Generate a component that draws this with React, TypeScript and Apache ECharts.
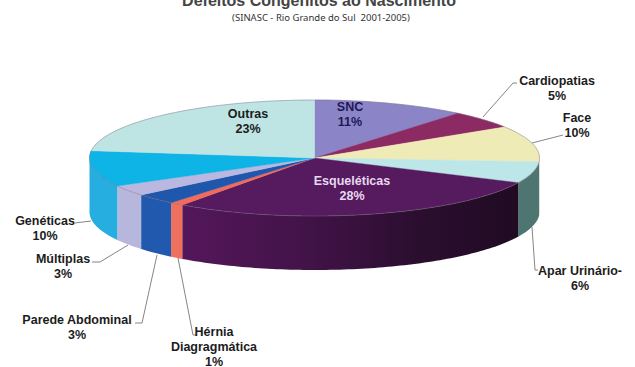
import React, { useEffect, useRef } from "react";
import * as echarts from "echarts";

// Congenital defects at birth, share by type, in chart order (clockwise from 12 o'clock)
const names = ["SNC", "Cardiopatias", "Face", "Apar Urinário-", "Esqueléticas", "Hérnia\nDiagragmática", "Parede Abdominal", "Múltiplas", "Genéticas", "Outras"];
const shares = [11, 5, 10, 6, 28, 1, 3, 3, 10, 23];
const titleText = "Defeitos Congênitos ao Nascimento";
const subtitleText = "(SINASC - Rio Grande do Sul  2001-2005)";

const topColors = ["#8B85C8", "#8C2A63", "#EFEBB6", "#BCE6E8", "#551B5E", "#F26B5B", "#1F57AC", "#BAB8E0", "#0FB4E6", "#BEE4E4"];
const sideColors = ["#6F6AA5", "#6D204D", "#C9C59A", "#4F7572", "#4A1450", "#F0705E", "#2059AE", "#B7B6DD", "#26AEE0", "#9CC0C0"];

// Pie disc geometry in page pixels
const CX = 314.5, CY = 158, RX = 225, RY = 58, DEPTH = 54;

// Centre x and first-line centre y of each label, with its leader line
const labelLayout: Record<string, { x: number; y: number; color: string; leader?: number[][] }> = {
  "SNC": { x: 350, y: 106, color: "#1D1A58" },
  "Cardiopatias": { x: 557, y: 80, color: "#1c1c1c", leader: [[483, 117], [513, 83], [517, 83]] },
  "Face": { x: 577, y: 117, color: "#1c1c1c", leader: [[532, 143], [563, 135]] },
  "Apar Urinário-": { x: 580, y: 270, color: "#1c1c1c", leader: [[532, 227], [535, 270], [538, 270]] },
  "Esqueléticas": { x: 352, y: 180, color: "#E8D8F0" },
  "Hérnia\nDiagragmática": { x: 214, y: 331, color: "#1c1c1c", leader: [[178, 258], [193, 335], [197, 335]] },
  "Parede Abdominal": { x: 77, y: 319, color: "#1c1c1c", leader: [[157, 255], [142, 323], [135, 323]] },
  "Múltiplas": { x: 63, y: 258, color: "#1c1c1c", leader: [[128, 245], [100, 262], [92, 262]] },
  "Genéticas": { x: 45, y: 220, color: "#1c1c1c", leader: [[91, 221], [75, 223]] },
  "Outras": { x: 248, y: 113, color: "#1c1c1c" },
};

const total = shares.reduce((a, b) => a + b, 0);
const rimPoint = (t: number, dy = 0) => [CX + RX * Math.sin(t), CY - RY * Math.cos(t) + dy];
const arcPoints = (a: number, b: number, dy = 0) => {
  const n = Math.max(2, Math.ceil(Math.abs(b - a) / 0.02));
  const pts: number[][] = [];
  for (let i = 0; i <= n; i++) pts.push(rimPoint(a + ((b - a) * i) / n, dy));
  return pts;
};

const renderSlice = (params: any, api: any) => {
  const i = params.dataIndex;
  const value = api.value(0);
  const before = shares.slice(0, i).reduce((a, b) => a + b, 0);
  const start = (before / total) * Math.PI * 2;
  const end = ((before + value) / total) * Math.PI * 2;
  const children: any[] = [];

  // Outer wall: only the part of the rim on the near half of the disc shows
  const wallFrom = Math.max(start, Math.PI / 2);
  const wallTo = Math.min(end, (Math.PI * 3) / 2);
  if (wallTo > wallFrom) {
    const top = arcPoints(wallFrom, wallTo);
    const bottom = arcPoints(wallFrom, wallTo, DEPTH).reverse();
    const isLargest = value === Math.max(...shares);
    children.push({
      type: "polygon",
      shape: { points: top.concat(bottom) },
      style: {
        fill: isLargest
          ? new echarts.graphic.LinearGradient(0, 0, 1, 0, [
              { offset: 0, color: "#54175A" },
              { offset: 0.35, color: "#431349" },
              { offset: 0.7, color: "#2B0E2F" },
              { offset: 1, color: "#200B23" },
            ])
          : sideColors[i],
        stroke: null,
      },
    });
  }

  // Top face wedge with a thin rim line
  const rim = arcPoints(start, end);
  children.push({
    type: "polygon",
    shape: { points: [[CX, CY], ...rim] },
    style: { fill: topColors[i], stroke: topColors[i], lineWidth: 0.4 },
  });
  children.push({
    type: "polyline",
    shape: { points: rim },
    style: { fill: null, stroke: "rgba(120,105,125,0.55)", lineWidth: 0.8 },
  });

  const layout = labelLayout[names[i]];
  if (layout.leader) {
    children.push({
      type: "polyline",
      shape: { points: layout.leader },
      style: { fill: null, stroke: "#858585", lineWidth: 1 },
    });
  }
  children.push({
    type: "text",
    x: layout.x,
    y: layout.y - 7,
    style: {
      text: `${names[i]}\n${value}%`,
      fill: layout.color,
      font: 'bold 12.5px "Liberation Sans", Arial, sans-serif',
      lineHeight: 15,
      align: "center",
      verticalAlign: "top",
    },
  });
  return { type: "group", children };
};

export default function App() {
  const ref = useRef<HTMLDivElement>(null);
  useEffect(() => {
    const chart = echarts.init(ref.current!, undefined, { renderer: "svg" });
    chart.setOption({
      animation: false,
      backgroundColor: "#FFFFFF",
      title: [
        {
          text: titleText,
          left: 314,
          top: -13,
          textAlign: "center",
          textStyle: { fontFamily: "Liberation Sans", fontWeight: "bold", fontSize: 16, color: "#444444" },
        },
        {
          text: subtitleText,
          left: 316,
          top: 7,
          textAlign: "center",
          textStyle: { fontFamily: "Noto Sans", fontWeight: "normal", fontSize: 9.5, color: "#333333" },
        },
      ],
      series: [
        {
          type: "custom",
          coordinateSystem: "none",
          data: shares.map((v) => [v]),
          renderItem: renderSlice,
        },
      ],
    });
    return () => chart.dispose();
  }, []);
  return <div ref={ref} style={{ position: "fixed", left: 0, top: 0, width: 635, height: 367 }} />;
}
